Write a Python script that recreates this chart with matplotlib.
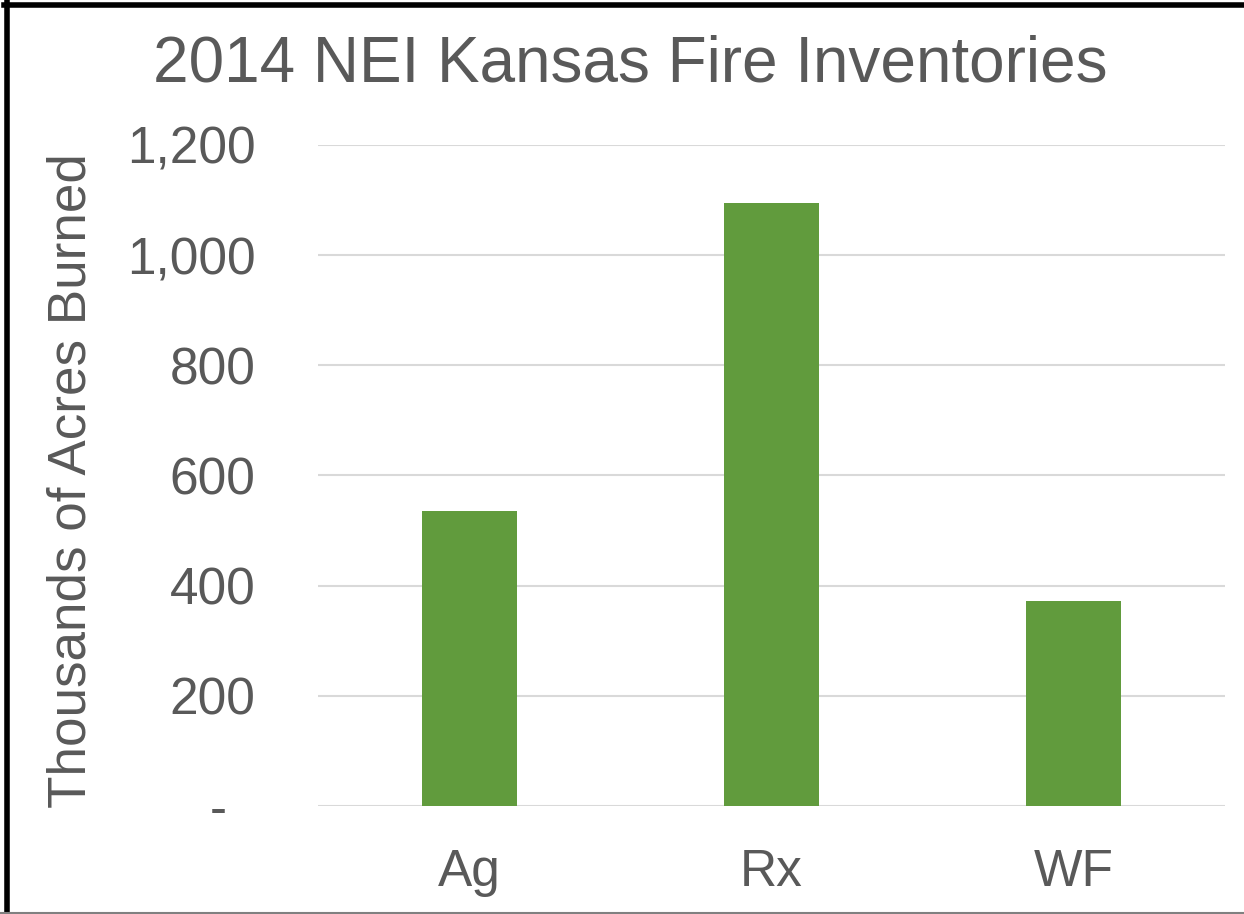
# 2014 NEI Kansas fire inventories - acres burned by fire type
import matplotlib.pyplot as plt
from matplotlib.lines import Line2D

categories = ['Ag', 'Rx', 'WF']
acres_thousands = [535, 1095, 373]
y_ticks = [0, 200, 400, 600, 800, 1000, 1200]
y_tick_labels = ['-  ', '200', '400', '600', '800', '1,000', '1,200']

TEXT = '#595959'
BAR = '#619B3D'
GRID = '#D9D9D9'

plt.rcParams['font.family'] = ['Liberation Sans', 'DejaVu Sans']

W, H = 1244, 914
fig = plt.figure(figsize=(W / 100, H / 100), dpi=100)
ax = fig.add_axes([318 / W, 1 - 806 / H, (1225 - 318) / W, (806 - 145) / H])

x = range(len(categories))
ax.bar(x, acres_thousands, width=0.315, color=BAR, zorder=3)

ax.set_xlim(-0.5, len(categories) - 0.5)
ax.set_ylim(0, 1200)
ax.set_yticks(y_ticks)
ax.set_yticklabels(y_tick_labels)
ax.set_xticks(list(x))
ax.set_xticklabels(categories)
ax.tick_params(axis='both', length=0, labelsize=37, labelcolor=TEXT)
ax.tick_params(axis='y', pad=45)
ax.tick_params(axis='x', pad=30)

ax.grid(axis='y', color=GRID, linewidth=1.5, zorder=0)
for s in ax.spines.values():
    s.set_visible(False)

fig.text(72 / W, 1 - 481 / H, 'Thousands of Acres Burned', rotation=90,
         ha='center', va='center', fontsize=38.2, color=TEXT)
fig.text(630 / W, 1 - 64 / H, '2014 NEI Kansas Fire Inventories',
         ha='center', va='center', fontsize=46, color=TEXT)

# frame like the cropped screenshot: thick black top/left, thin grey bottom
fig.add_artist(Line2D([4 / W, 1], [1 - 4.5 / H, 1 - 4.5 / H], color='black', linewidth=4))
fig.add_artist(Line2D([6.5 / W, 6.5 / W], [0, 1 - 2 / H], color='black', linewidth=4))
fig.add_artist(Line2D([0, 1], [1.5 / H, 1.5 / H], color='#808080', linewidth=1.5))

fig.savefig('out.png', dpi=100)
